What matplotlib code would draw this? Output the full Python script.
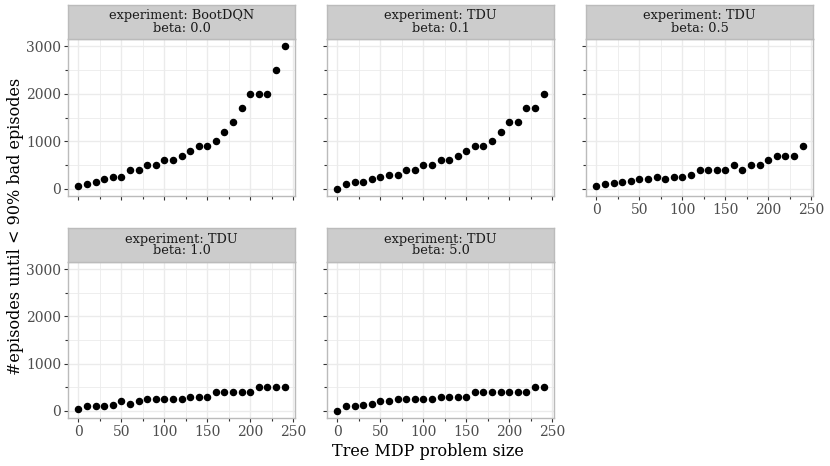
import matplotlib
matplotlib.use("Agg")
import matplotlib.pyplot as plt
from matplotlib.ticker import MultipleLocator

plt.rcParams['font.family'] = ['DejaVu Serif']

sizes = [0, 10, 20, 30, 40, 50, 60, 70, 80, 90, 100, 110, 120,
         130, 140, 150, 160, 170, 180, 190, 200, 210, 220, 230, 240]

bootdqn_0_0 = [50, 100, 150, 200, 250, 250, 400, 400, 500, 500, 600, 600, 700,
               800, 900, 900, 1000, 1200, 1400, 1700, 2000, 2000, 2000, 2500, 3000]
tdu_0_1 = [0, 100, 150, 150, 200, 250, 300, 300, 400, 400, 500, 500, 600,
           600, 700, 800, 900, 900, 1000, 1200, 1400, 1400, 1700, 1700, 2000]
tdu_0_5 = [50, 100, 125, 150, 175, 200, 200, 250, 200, 250, 250, 300, 400,
           400, 400, 400, 500, 400, 500, 500, 600, 700, 700, 700, 900]
tdu_1_0 = [50, 100, 100, 100, 125, 200, 150, 200, 250, 250, 250, 250, 250,
           300, 300, 300, 400, 400, 400, 400, 400, 500, 500, 500, 500]
tdu_5_0 = [0, 100, 100, 125, 150, 200, 200, 250, 250, 250, 250, 250, 300,
           300, 300, 300, 400, 400, 400, 400, 400, 400, 400, 500, 500]

panels = [
    ("experiment: BootDQN\nbeta: 0.0", bootdqn_0_0),
    ("experiment: TDU\nbeta: 0.1", tdu_0_1),
    ("experiment: TDU\nbeta: 0.5", tdu_0_5),
    ("experiment: TDU\nbeta: 1.0", tdu_1_0),
    ("experiment: TDU\nbeta: 5.0", tdu_5_0),
]

W, H = 830, 466
fig = plt.figure(figsize=(W / 100, H / 100), dpi=100)

# pixel boxes: (strip top, axes top, axes bottom) per row
lefts = [68, 327, 586]
pw = 227
rows = [(5, 39, 196), (228, 262, 418)]
grid_col = '#EBEBEB'
border = '#BBBBBB'
text_col = '#4D4D4D'

for i, (title, vals) in enumerate(panels):
    r, c = divmod(i, 3)
    l = lefts[c]
    st, at, ab = rows[r]
    ax = fig.add_axes([l / W, 1 - ab / H, pw / W, (ab - at) / H])
    ax.plot(sizes, vals, 'o', color='black', markersize=4.4, zorder=3)
    ax.set_xlim(-12, 252)
    ax.set_ylim(-150, 3150)
    ax.xaxis.set_major_locator(MultipleLocator(50))
    ax.xaxis.set_minor_locator(MultipleLocator(25))
    ax.yaxis.set_major_locator(MultipleLocator(1000))
    ax.yaxis.set_minor_locator(MultipleLocator(500))
    ax.grid(True, which='major', color=grid_col, linewidth=1.0)
    ax.grid(True, which='minor', color=grid_col, linewidth=0.6)
    ax.set_axisbelow(True)
    for s in ax.spines.values():
        s.set_color(border)
        s.set_linewidth(1.0)
    ax.tick_params(which='both', length=3, width=0.8, color='#333333',
                   labelsize=10, labelcolor=text_col, pad=2)
    ax.tick_params(which='minor', length=2)
    show_y = c == 0
    show_x = r == 1 or c == 2
    ax.tick_params(labelleft=show_y, labelbottom=show_x)

    sax = fig.add_axes([l / W, 1 - at / H, pw / W, (at - st) / H])
    sax.set_facecolor('#CCCCCC')
    sax.set_xticks([])
    sax.set_yticks([])
    for s in sax.spines.values():
        s.set_color(border)
        s.set_linewidth(1.0)
    sax.text(0.5, 0.5, title, ha='center', va='center', fontsize=9.3,
             color='#1A1A1A', linespacing=0.9, transform=sax.transAxes)

fig.text(428 / W, 1 - 452 / H, 'Tree MDP problem size', ha='center',
         va='center', fontsize=11.5)
fig.text(16 / W, 1 - 226 / H, '#episodes until < 90% bad episodes',
         ha='center', va='center', rotation=90, fontsize=11.5)

fig.savefig('out.png', dpi=100)
